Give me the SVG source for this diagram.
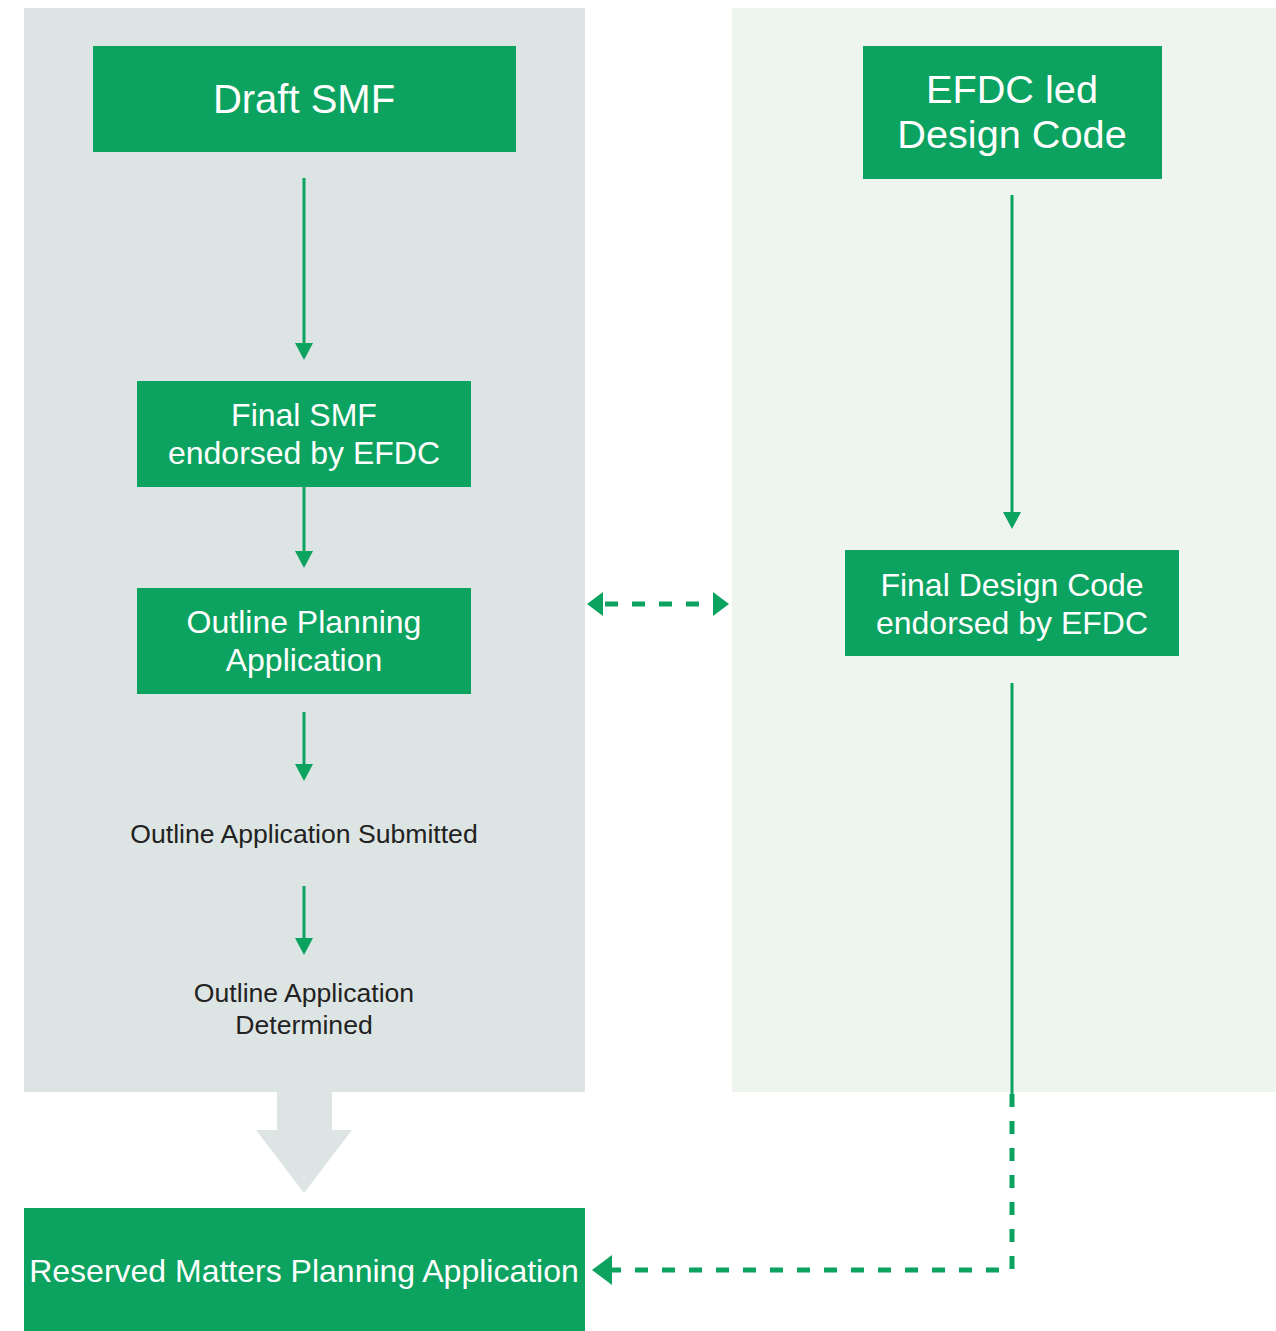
<svg xmlns="http://www.w3.org/2000/svg" width="1276" height="1331" viewBox="0 0 1276 1331">
<defs>
<style>
.box{fill:#0ca25f}
.wt{fill:#ffffff;font-family:"Liberation Sans",Arial,sans-serif;text-anchor:middle}
.dk{fill:#222222;font-family:"Liberation Sans",Arial,sans-serif;text-anchor:middle;font-size:26.6px}
.ln{stroke:#0ca25f;stroke-width:3;fill:none}
.dash{stroke:#0ca25f;stroke-width:5;fill:none;stroke-dasharray:13 14}
.head{fill:#0ca25f}
</style>
</defs>
<rect width="1276" height="1331" fill="#ffffff"/>
<g id="panels">
<rect x="24" y="8" width="561" height="1084" fill="#dde5e4"/>
<rect x="732" y="8" width="544" height="1084" fill="#eef5ef"/>
<polygon points="277,1092 332,1092 332,1130 352,1130 304,1193 256,1130 277,1130" fill="#dde5e4"/>
</g>
<g id="connectors">
<line class="ln" x1="304" y1="178" x2="304" y2="346"/>
<polygon class="head" points="295,343 313,343 304,360"/>
<line class="ln" x1="304" y1="487" x2="304" y2="554"/>
<polygon class="head" points="295,551 313,551 304,568"/>
<line class="ln" x1="304" y1="712" x2="304" y2="767"/>
<polygon class="head" points="295,764 313,764 304,781"/>
<line class="ln" x1="304" y1="886" x2="304" y2="941"/>
<polygon class="head" points="295,938 313,938 304,955"/>
<line class="ln" x1="1012" y1="195" x2="1012" y2="515"/>
<polygon class="head" points="1003,512 1021,512 1012,529"/>
<line class="ln" x1="1012" y1="683" x2="1012" y2="1094"/>
<polyline class="dash" points="1012,1094 1012,1270 612,1270"/>
<polygon class="head" points="612,1255 612,1285 592,1270"/>
<line class="dash" x1="603" y1="604" x2="713" y2="604" stroke-dashoffset="-2"/>
<polygon class="head" points="603,592 603,616 587,604"/>
<polygon class="head" points="713,592 713,616 729,604"/>
</g>
<g id="draft-smf">
<rect class="box" x="93" y="46" width="423" height="106"/>
<text class="wt" x="304" y="113" font-size="40">Draft SMF</text>
</g>
<g id="efdc-led">
<rect class="box" x="863" y="46" width="299" height="133"/>
<text class="wt" x="1012" y="103" font-size="39.7">EFDC led</text>
<text class="wt" x="1012" y="148" font-size="39.7">Design Code</text>
</g>
<g id="final-smf">
<rect class="box" x="137" y="381" width="334" height="106"/>
<text class="wt" x="304" y="426" font-size="32">Final SMF</text>
<text class="wt" x="304" y="464" font-size="32">endorsed by EFDC</text>
</g>
<g id="outline-planning">
<rect class="box" x="137" y="588" width="334" height="106"/>
<text class="wt" x="304" y="633" font-size="32">Outline Planning</text>
<text class="wt" x="304" y="671" font-size="32">Application</text>
</g>
<g id="final-design-code">
<rect class="box" x="845" y="550" width="334" height="106"/>
<text class="wt" x="1012" y="596" font-size="32">Final Design Code</text>
<text class="wt" x="1012" y="634" font-size="32">endorsed by EFDC</text>
</g>
<g id="submitted">
<text class="dk" x="304" y="843">Outline Application Submitted</text>
</g>
<g id="determined">
<text class="dk" x="304" y="1002">Outline Application</text>
<text class="dk" x="304" y="1034">Determined</text>
</g>
<g id="reserved-matters">
<rect class="box" x="24" y="1208" width="561" height="123"/>
<text class="wt" x="304" y="1282" font-size="32">Reserved Matters Planning Application</text>
</g>
</svg>
